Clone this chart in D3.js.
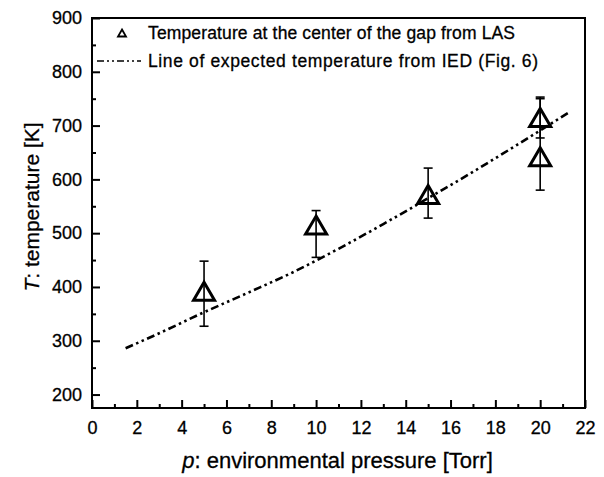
<!DOCTYPE html>
<html>
<head>
<meta charset="utf-8">
<script src="https://cdn.jsdelivr.net/npm/d3@7"></script>
<style>
  html, body { margin: 0; padding: 0; background: #fff; }
  svg { display: block; font-family: "Liberation Sans", Arial, Helvetica, sans-serif; }
</style>
</head>
<body>
<svg id="chart" width="604" height="477"></svg>
<script>
// LAS measurements: pressure [Torr], temperature [K] and error limits
const pressure = [5, 10, 15, 20, 20];
const temperature = [392, 515, 572, 715, 642];
const errLow = [327, 455, 528, 677, 580];
const errHigh = [448, 542, 621, 753, 750];

// Expected temperature from IED
const linePressure = [1.5, 3, 5, 7, 9, 11, 13, 15, 17, 19, 21.3];
const lineTemperature = [286, 314, 353, 390, 428, 471, 517, 565, 614, 665, 725];

const xMajorTicks = [0, 2, 4, 6, 8, 10, 12, 14, 16, 18, 20, 22];
const xMinorTicks = [1, 3, 5, 7, 9, 11, 13, 15, 17, 19, 21];
const yMajorTicks = [200, 300, 400, 500, 600, 700, 800, 900];
const yMinorTicks = [250, 350, 450, 550, 650, 750, 850];

const legendLabels = [
  "Temperature at the center of the gap from LAS",
  "Line of expected temperature from IED (Fig. 6)"
];

const svg = d3.select("#chart");
const m = { left: 92, right: 585, top: 18, bottom: 408 };

const x = d3.scaleLinear().domain([0, 22]).range([m.left, m.right]);
const y = d3.scaleLinear().domain([175, 900]).range([m.bottom, m.top]);

// Slightly heavier text, like the original print
function ink(sel) {
  sel.attr("fill", "#000").attr("stroke", "#000").attr("stroke-width", 0.3);
}

// Frame
svg.append("rect")
  .attr("x", m.left).attr("y", m.top)
  .attr("width", m.right - m.left).attr("height", m.bottom - m.top)
  .attr("fill", "none").attr("stroke", "#000").attr("stroke-width", 2);

// Axes with inward ticks
function styleAxis(g) {
  g.select(".domain").remove();
  g.selectAll(".tick line").attr("stroke", "#000").attr("stroke-width", 2);
  g.selectAll(".tick text").attr("font-size", 18)
    .attr("font-family", "Liberation Sans, Arial, sans-serif").call(ink);
}

svg.append("g").attr("transform", `translate(0,${m.bottom})`)
  .call(d3.axisBottom(x).tickValues(xMinorTicks).tickSize(-4).tickFormat(""))
  .call(styleAxis);
svg.append("g").attr("transform", `translate(0,${m.bottom})`)
  .call(d3.axisBottom(x).tickValues(xMajorTicks).tickSize(-8).tickPadding(13).tickFormat(d3.format("d")))
  .call(styleAxis);

svg.append("g").attr("transform", `translate(${m.left},0)`)
  .call(d3.axisLeft(y).tickValues(yMinorTicks).tickSize(-4).tickFormat(""))
  .call(styleAxis);
svg.append("g").attr("transform", `translate(${m.left},0)`)
  .call(d3.axisLeft(y).tickValues(yMajorTicks).tickSize(-8).tickPadding(10).tickFormat(d3.format("d")))
  .call(styleAxis);

// Axis titles
const xt = svg.append("text")
  .attr("x", (m.left + m.right) / 2 - 1).attr("y", 468)
  .attr("text-anchor", "middle").attr("font-size", 22).call(ink);
xt.append("tspan").attr("font-style", "italic").text("p");
xt.append("tspan").text(": environmental pressure [Torr]");

const yt = svg.append("text")
  .attr("transform", `translate(39,${(m.top + m.bottom) / 2 - 6}) rotate(-90)`)
  .attr("text-anchor", "middle").attr("font-size", 21).call(ink);
yt.append("tspan").attr("font-style", "italic").text("T");
yt.append("tspan").text(": temperature [K]");

// Expected temperature line (dash-dot-dot)
const dashPattern = "8,3.5,2.5,3.5,2.5,3.5";
const lineGen = d3.line().x(d => x(d[0])).y(d => y(d[1])).curve(d3.curveMonotoneX);
svg.append("path")
  .datum(linePressure.map((p, i) => [p, lineTemperature[i]]))
  .attr("d", lineGen)
  .attr("fill", "none").attr("stroke", "#000").attr("stroke-width", 2.6)
  .attr("stroke-dasharray", dashPattern);

// Error bars
const capW = 4.5;
const points = pressure.map((p, i) => ({ p, t: temperature[i], lo: errLow[i], hi: errHigh[i] }));
const eb = svg.append("g").attr("stroke", "#000").attr("stroke-width", 1.6);
points.forEach(d => {
  const cx = x(d.p);
  eb.append("line").attr("x1", cx).attr("x2", cx).attr("y1", y(d.hi)).attr("y2", y(d.lo));
  eb.append("line").attr("x1", cx - capW).attr("x2", cx + capW).attr("y1", y(d.hi)).attr("y2", y(d.hi));
  eb.append("line").attr("x1", cx - capW).attr("x2", cx + capW).attr("y1", y(d.lo)).attr("y2", y(d.lo));
});

// Open triangle markers
function triangle(cx, cy, w, h) {
  return `M${cx},${cy - h / 2}L${cx + w / 2},${cy + h / 2}L${cx - w / 2},${cy + h / 2}Z`;
}
svg.append("g").selectAll("path").data(points).join("path")
  .attr("d", d => triangle(x(d.p), y(d.t), 21, 18))
  .attr("fill", "none").attr("stroke", "#000").attr("stroke-width", 3)
  .attr("stroke-linejoin", "miter");

// Legend
const lg = svg.append("g");
lg.append("path").attr("d", triangle(122, 33, 8, 7))
  .attr("fill", "none").attr("stroke", "#000").attr("stroke-width", 1.8);
lg.append("text").attr("x", 148).attr("y", 39).attr("font-size", 17.5)
  .attr("textLength", 367).attr("lengthAdjust", "spacing").call(ink).text(legendLabels[0]);
lg.append("line").attr("x1", 97).attr("x2", 141).attr("y1", 61).attr("y2", 61)
  .attr("stroke", "#000").attr("stroke-width", 1.6).attr("stroke-dasharray", "7,3,2,3,2,3");
lg.append("text").attr("x", 148).attr("y", 67).attr("font-size", 17.5)
  .attr("textLength", 390).attr("lengthAdjust", "spacing").call(ink).text(legendLabels[1]);
</script>
</body>
</html>
